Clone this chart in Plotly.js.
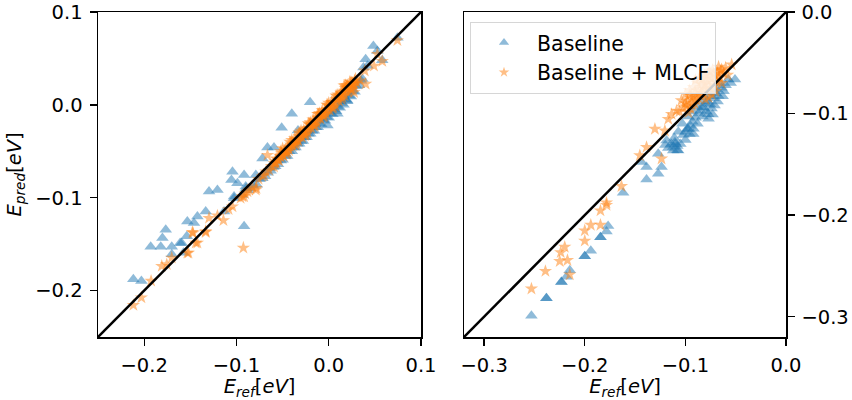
<!DOCTYPE html>
<html>
<head>
<meta charset="utf-8">
<script src="https://cdn.plot.ly/plotly-3.0.1.min.js"></script>
<style>
  html, body { margin: 0; padding: 0; background: #fff; }
  #chart { width: 852px; height: 400px; }
</style>
</head>
<body>
<div id="chart"></div>
<script>
// Axis limits of the two panels (x and y share the same limits in each panel)
const leftLimits = [-0.25, 0.1];
const rightLimits = [-0.32, 0.0];
const leftTicks = [-0.2, -0.1, 0.0, 0.1];
const rightTicks = [-0.3, -0.2, -0.1, 0.0];

const seriesNames = ["Baseline", "Baseline + MLCF"];

// Left panel: [E_ref, E_pred] pairs, baseline model
const leftBaseline = [
  [0.0744, 0.0724], [0.0484, 0.0634], [0.0527, 0.058], [0.040, 0.049], [0.058, 0.048],
  [0.042, 0.042], [0.0376, 0.0403], [0.0365, 0.0278], [-0.0202, 0.0029], [-0.040, -0.0096],
  [-0.051, -0.0246], [-0.0333, -0.0275], [-0.0664, -0.046], [-0.0593, -0.046], [-0.0718, -0.0578],
  [-0.1043, -0.072], [-0.0917, -0.0756], [-0.1054, -0.081], [-0.0989, -0.0845], [-0.079, -0.0756],
  [-0.1297, -0.0934], [-0.1206, -0.0916], [-0.0899, -0.088], [-0.0895, -0.0898], [-0.1026, -0.1005],
  [-0.1026, -0.0987], [-0.1134, -0.1148], [-0.0917, -0.1308], [-0.1532, -0.1255], [-0.146, -0.1273],
  [-0.1423, -0.1201], [-0.1333, -0.1148], [-0.1766, -0.1344], [-0.1802, -0.1433], [-0.1929, -0.1529],
  [-0.1820, -0.1529], [-0.1701, -0.1529], [-0.161, -0.1487], [-0.1574, -0.1594], [-0.17, -0.161],
  [-0.1593, -0.1487], [-0.1538, -0.1415], [-0.2117, -0.1879], [-0.2030, -0.1897],
  // dense band along the diagonal
  [-0.085, -0.090], [-0.082, -0.087], [-0.078, -0.086], [-0.075, -0.080], [-0.072, -0.079],
  [-0.069, -0.077], [-0.066, -0.073], [-0.063, -0.071], [-0.060, -0.067], [-0.058, -0.066],
  [-0.055, -0.064], [-0.052, -0.060], [-0.050, -0.059], [-0.047, -0.055], [-0.045, -0.055],
  [-0.043, -0.050], [-0.040, -0.050], [-0.038, -0.046], [-0.036, -0.046], [-0.034, -0.042],
  [-0.032, -0.042], [-0.030, -0.039], [-0.028, -0.039], [-0.026, -0.035], [-0.024, -0.035],
  [-0.022, -0.031], [-0.020, -0.031], [-0.018, -0.028], [-0.016, -0.028], [-0.014, -0.024],
  [-0.012, -0.024], [-0.010, -0.020], [-0.008, -0.021], [-0.006, -0.016], [-0.004, -0.017],
  [-0.002, -0.013], [0.000, -0.014], [0.002, -0.009], [0.004, -0.010], [0.006, -0.005],
  [0.008, -0.007], [0.010, -0.002], [0.012, -0.003], [0.014, 0.002], [0.016, 0.000],
  [0.018, 0.006], [0.020, 0.004], [0.022, 0.010], [0.024, 0.009], [0.026, 0.015],
  [0.028, 0.014], [0.030, 0.020], [0.033, 0.021], [0.035, 0.026], [0.0094, -0.0096],
  [0.020, 0.0046], [-0.0014, -0.0221], [-0.041, -0.044], [-0.030, -0.034], [-0.020, -0.024],
  [-0.010, -0.015], [0.000, -0.006], [0.011, 0.004], [0.019, 0.012], [-0.048, -0.052],
  [-0.056, -0.060], [-0.064, -0.068], [-0.088, -0.092], [-0.094, -0.097]
];

// Left panel: baseline + MLCF correction
const leftCorrected = [
  [0.0744, 0.0695], [0.0527, 0.0545], [0.049, 0.042], [0.058, 0.047], [0.039, 0.0367],
  [0.040, 0.0225], [0.034, 0.026], [0.0274, 0.0136], [0.0166, 0.0206], [0.0274, 0.0225],
  [-0.0664, -0.0542], [-0.0783, -0.0898], [-0.07, -0.0756], [-0.0593, -0.0667], [-0.0925, -0.154],
  [-0.079, -0.0916], [-0.1043, -0.1095], [-0.1206, -0.1194], [-0.1141, -0.1244], [-0.1297, -0.1219],
  [-0.1333, -0.1362], [-0.1471, -0.138], [-0.1423, -0.1487], [-0.1520, -0.1594], [-0.1701, -0.1647],
  [-0.1809, -0.1736], [-0.1755, -0.1718], [-0.1925, -0.1896], [-0.2030, -0.2075], [-0.2117, -0.2157],
  [-0.0917, -0.0987], [-0.0935, -0.0987], [-0.0881, -0.0934], [-0.0646, -0.0703], [-0.0574, -0.0631],
  [-0.052, -0.056], [-0.1085, -0.1125], [-0.1477, -0.1372], [-0.1333, -0.1372], [-0.1441, -0.1487],
  [-0.1532, -0.1594], [-0.0905, -0.0955], [-0.0955, -0.1005], [-0.0865, -0.0915],
  // dense band along the diagonal
  [-0.062, -0.066], [-0.058, -0.061], [-0.055, -0.059], [-0.053, -0.055], [-0.050, -0.054],
  [-0.048, -0.050], [-0.046, -0.049], [-0.044, -0.046], [-0.042, -0.045], [-0.040, -0.042],
  [-0.038, -0.041], [-0.036, -0.038], [-0.034, -0.037], [-0.032, -0.034], [-0.030, -0.033],
  [-0.028, -0.030], [-0.026, -0.029], [-0.024, -0.026], [-0.022, -0.025], [-0.020, -0.022],
  [-0.018, -0.021], [-0.016, -0.018], [-0.014, -0.017], [-0.012, -0.014], [-0.010, -0.013],
  [-0.008, -0.010], [-0.006, -0.009], [-0.004, -0.006], [-0.002, -0.005], [0.000, -0.002],
  [0.002, -0.001], [0.004, 0.002], [0.006, 0.003], [0.008, 0.006], [0.010, 0.007],
  [0.012, 0.010], [0.014, 0.011], [0.016, 0.014], [0.018, 0.015], [0.020, 0.018],
  [0.022, 0.019], [0.024, 0.022], [0.026, 0.023], [0.028, 0.026], [-0.050, -0.047],
  [-0.045, -0.051], [-0.040, -0.038], [-0.035, -0.041], [-0.030, -0.028], [-0.025, -0.032],
  [-0.020, -0.019], [-0.015, -0.022], [-0.010, -0.009], [-0.005, -0.012], [0.000, 0.002],
  [0.005, -0.003], [0.010, 0.011], [0.015, 0.008], [0.020, 0.021], [0.025, 0.017],
  [0.030, 0.024], [0.018, 0.021], [0.023, 0.025], [-0.068, -0.072], [-0.072, -0.077],
  [-0.076, -0.080], [-0.083, -0.088],
  [-0.059, -0.063], [-0.057, -0.058], [-0.054, -0.060], [-0.051, -0.052], [-0.049, -0.055],
  [-0.047, -0.048], [-0.043, -0.049], [-0.041, -0.043], [-0.039, -0.044], [-0.037, -0.036],
  [-0.033, -0.039], [-0.031, -0.031], [-0.029, -0.035], [-0.027, -0.027], [-0.023, -0.030],
  [-0.021, -0.021], [-0.019, -0.025], [-0.017, -0.016], [-0.013, -0.020], [-0.011, -0.010],
  [-0.009, -0.015], [-0.007, -0.006], [-0.003, -0.010], [-0.001, 0.000], [0.001, -0.006],
  [0.003, 0.003], [0.007, -0.001], [0.009, 0.009], [0.011, 0.004], [0.013, 0.013],
  [0.017, 0.010], [0.019, 0.019], [0.021, 0.014], [0.025, 0.024], [0.027, 0.020],
  [0.029, 0.028], [-0.046, -0.053], [-0.036, -0.043], [-0.026, -0.033], [-0.016, -0.023],
  [-0.006, -0.013], [0.004, -0.004], [0.014, 0.006], [0.024, 0.016], [-0.052, -0.050],
  [-0.042, -0.040], [-0.032, -0.030], [-0.022, -0.020], [-0.012, -0.010], [-0.002, 0.000],
  [0.008, 0.010], [0.018, 0.018]
];

// Right panel: baseline model
const rightBaseline = [
  [-0.0574, -0.0664], [-0.0507, -0.0664], [-0.064, -0.0745], [-0.0673, -0.0827], [-0.0756, -0.0908],
  [-0.0773, -0.1006], [-0.0839, -0.094], [-0.0922, -0.1201], [-0.0972, -0.1152], [-0.1104, -0.1283],
  [-0.1072, -0.1364], [-0.1121, -0.1364], [-0.1187, -0.1266], [-0.127, -0.1396], [-0.1436, -0.1478],
  [-0.1386, -0.1527], [-0.1237, -0.1527], [-0.127, -0.1592], [-0.1386, -0.165], [-0.1619, -0.178],
  [-0.1768, -0.2106], [-0.1784, -0.2161], [-0.1844, -0.2217], [-0.1844, -0.2217], [-0.194, -0.235],
  [-0.2, -0.2405], [-0.2, -0.2405], [-0.2149, -0.2542], [-0.2182, -0.2607], [-0.2232, -0.2659],
  [-0.2232, -0.2659], [-0.2381, -0.2819], [-0.2381, -0.2819], [-0.253, -0.2992],
  // dense cluster near the top
  [-0.070, -0.080], [-0.072, -0.085], [-0.075, -0.083], [-0.078, -0.088], [-0.080, -0.090],
  [-0.082, -0.094], [-0.085, -0.097], [-0.087, -0.100], [-0.090, -0.104], [-0.093, -0.108],
  [-0.095, -0.112], [-0.098, -0.115], [-0.100, -0.118], [-0.102, -0.121], [-0.068, -0.088],
  [-0.071, -0.092], [-0.074, -0.095], [-0.079, -0.098], [-0.083, -0.103], [-0.088, -0.110],
  [-0.092, -0.115], [-0.096, -0.120], [-0.100, -0.126], [-0.105, -0.130], [-0.108, -0.132],
  [-0.062, -0.078], [-0.066, -0.070], [-0.069, -0.076], [-0.076, -0.079], [-0.081, -0.084],
  [-0.085, -0.088], [-0.089, -0.093], [-0.093, -0.098], [-0.097, -0.103], [-0.103, -0.110],
  [-0.107, -0.118], [-0.111, -0.124], [-0.114, -0.130], [-0.117, -0.134], [-0.120, -0.131],
  [-0.060, -0.072], [-0.055, -0.070], [-0.063, -0.083], [-0.073, -0.101], [-0.077, -0.105],
  [-0.110, -0.130], [-0.112, -0.133], [-0.108, -0.136]
];

// Right panel: baseline + MLCF correction
const rightCorrected = [
  [-0.054, -0.0518], [-0.064, -0.0566], [-0.1137, -0.1006], [-0.1088, -0.0973], [-0.117, -0.1055],
  [-0.1204, -0.1169], [-0.1303, -0.1152], [-0.1386, -0.1331], [-0.1453, -0.1413], [-0.1237, -0.1445],
  [-0.1635, -0.1716], [-0.1784, -0.1878], [-0.1784, -0.1901], [-0.1844, -0.1956], [-0.194, -0.2097],
  [-0.2, -0.2152], [-0.1844, -0.2097], [-0.2, -0.2253], [-0.2199, -0.2314], [-0.2239, -0.2367],
  [-0.2249, -0.2454], [-0.2172, -0.2444], [-0.2391, -0.2552], [-0.2149, -0.2585], [-0.253, -0.2725],
  // dense cloud near the top
  [-0.065, -0.058], [-0.068, -0.060], [-0.070, -0.063], [-0.072, -0.061], [-0.074, -0.066],
  [-0.076, -0.064], [-0.078, -0.068], [-0.080, -0.070], [-0.082, -0.072], [-0.084, -0.071],
  [-0.086, -0.076], [-0.088, -0.078], [-0.090, -0.080], [-0.092, -0.083], [-0.094, -0.085],
  [-0.096, -0.082], [-0.098, -0.088], [-0.100, -0.090], [-0.102, -0.094], [-0.066, -0.065],
  [-0.069, -0.069], [-0.071, -0.072], [-0.073, -0.070], [-0.075, -0.075], [-0.077, -0.073],
  [-0.079, -0.077], [-0.081, -0.076], [-0.083, -0.080], [-0.085, -0.082], [-0.087, -0.085],
  [-0.089, -0.087], [-0.091, -0.090], [-0.093, -0.092], [-0.095, -0.095], [-0.060, -0.055],
  [-0.062, -0.060], [-0.067, -0.054], [-0.073, -0.057], [-0.078, -0.062], [-0.083, -0.066],
  [-0.088, -0.070], [-0.092, -0.074], [-0.096, -0.077], [-0.100, -0.081], [-0.104, -0.087],
  [-0.070, -0.078], [-0.074, -0.081], [-0.077, -0.084], [-0.080, -0.086], [-0.064, -0.070],
  [-0.058, -0.062], [-0.086, -0.065], [-0.090, -0.067], [-0.076, -0.058], [-0.081, -0.063],
  [-0.097, -0.099], [-0.106, -0.098], [-0.099, -0.093]
];

const blue = "#1f77b4";
const orange = "#ff7f0e";
const font = "DejaVu Sans, Verdana, sans-serif";

function scatter(points, name, color, symbol, size, xa, ya) {
  return {
    type: "scatter",
    mode: "markers",
    name: name,
    x: points.map(p => p[0]),
    y: points.map(p => p[1]),
    xaxis: xa,
    yaxis: ya,
    showlegend: false,
    hoverinfo: "skip",
    marker: { color: color, symbol: symbol, size: size, opacity: 0.5, line: { width: 0 } }
  };
}

// Legend keys: a single empty (null) point each, drawn with smaller symbols
function legendKey(name, color, symbol, size) {
  return {
    type: "scatter", mode: "markers", name: name, x: [null], y: [null],
    xaxis: "x2", yaxis: "y2", showlegend: true, hoverinfo: "skip",
    marker: { color: color, symbol: symbol, size: size, opacity: 0.5, line: { width: 0 } }
  };
}

const traces = [
  scatter(leftBaseline, seriesNames[0], blue, "triangle-up", 11, "x", "y"),
  scatter(leftCorrected, seriesNames[1], orange, "star", 10, "x", "y"),
  scatter(rightBaseline, seriesNames[0], blue, "triangle-up", 11, "x2", "y2"),
  scatter(rightCorrected, seriesNames[1], orange, "star", 10, "x2", "y2"),
  legendKey(seriesNames[0], blue, "triangle-up", 9),
  legendKey(seriesNames[1], orange, "star", 8)
];

const axisBase = {
  showgrid: false,
  zeroline: false,
  showline: true,
  mirror: true,
  linecolor: "#000",
  linewidth: 1.5,
  ticks: "outside",
  ticklen: 7,
  tickwidth: 1.3,
  tickcolor: "#000",
  tickformat: ".1f",
  ticklabeloverflow: "allow",
  ticklabelstandoff: 3,
  tickfont: { family: font, size: 19.5, color: "#000" },
  fixedrange: true
};

const xTitle = "<i>E</i><sub><i>ref</i></sub>[<i>eV</i>]";
const yTitle = "<i>E</i><sub><i>pred</i></sub>[<i>eV</i>]";
const eps = 1e-9;

const layout = {
  width: 852,
  height: 400,
  margin: { l: 98, r: 66, t: 12, b: 63 },
  paper_bgcolor: "#fff",
  plot_bgcolor: "#fff",
  font: { family: font, color: "#000" },
  xaxis: Object.assign({}, axisBase, {
    domain: [0, 0.4695], range: [leftLimits[0] - eps, leftLimits[1] + eps], tickvals: leftTicks, anchor: "y",
    title: { text: xTitle, font: { family: font, size: 19.5 }, standoff: 5 }
  }),
  yaxis: Object.assign({}, axisBase, {
    domain: [0, 1], range: [leftLimits[0] - eps, leftLimits[1] + eps], tickvals: leftTicks, anchor: "x",
    title: { text: yTitle, font: { family: font, size: 19.5 }, standoff: 8 }
  }),
  xaxis2: Object.assign({}, axisBase, {
    domain: [0.532, 1], range: [rightLimits[0] - eps, rightLimits[1] + eps], tickvals: rightTicks, anchor: "y2",
    title: { text: xTitle, font: { family: font, size: 19.5 }, standoff: 5 }
  }),
  yaxis2: Object.assign({}, axisBase, {
    domain: [0, 1], range: [rightLimits[0] - eps, rightLimits[1] + eps], tickvals: rightTicks, anchor: "x2", side: "right"
  }),
  shapes: [
    { type: "line", xref: "x", yref: "y", x0: leftLimits[0], y0: leftLimits[0], x1: leftLimits[1], y1: leftLimits[1],
      line: { color: "#000", width: 2.5 }, layer: "above" },
    { type: "line", xref: "x2", yref: "y2", x0: rightLimits[0], y0: rightLimits[0], x1: rightLimits[1], y1: rightLimits[1],
      line: { color: "#000", width: 2.5 }, layer: "above" }
  ],
  legend: {
    x: 0.5407, y: 0.97, xanchor: "left", yanchor: "top",
    bgcolor: "rgba(255,255,255,0.8)", bordercolor: "#d6d6d6", borderwidth: 1,
    font: { family: font, size: 20.5, color: "#000" },
    itemwidth: 56
  },
  showlegend: true
};

Plotly.newPlot("chart", traces, layout, { displayModeBar: false, staticPlot: true });
</script>
</body>
</html>
